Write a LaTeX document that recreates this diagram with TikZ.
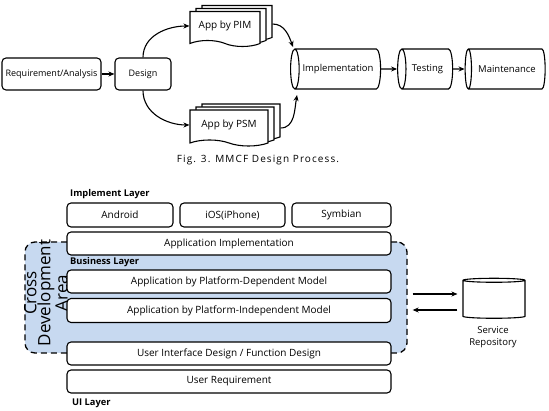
\documentclass[tikz,border=0pt]{standalone}
\usepackage{fontspec}
\setmainfont{Open Sans}
\usetikzlibrary{shapes.geometric,shapes.symbols,shadows,arrows.meta}
\definecolor{areablue}{RGB}{199,217,240}

\begin{document}
\begin{tikzpicture}[x=1pt,y=1pt,
    box/.style={draw,line width=1.1pt,rounded corners=4pt,fill=white,inner sep=0pt,font=\fontsize{9}{10}\selectfont},
    layer/.style={box,minimum width=324pt,minimum height=23pt,font=\fontsize{10}{11}\selectfont},
    doc/.style={draw,line width=1.1pt,fill=white,shape=tape,inner sep=0pt,tape bend top=none,tape bend bottom=out and in,tape bend height=6pt,font=\fontsize{10}{11}\selectfont,
      copy shadow={shadow xshift=12pt,shadow yshift=6pt,line width=1.1pt},
      copy shadow={shadow xshift=6pt,shadow yshift=3pt,line width=1.1pt}},
    pipe/.style={draw,line width=1.1pt,fill=white,shape=cylinder,shape border rotate=180,aspect=0.9,inner sep=0pt,minimum width=40pt,font=\fontsize{9.5}{11}\selectfont},
    flow/.style={-{Stealth[length=6pt,width=5pt]},line width=1.1pt},
    title/.style={anchor=west,inner sep=0pt,font=\bfseries\fontsize{9.3}{10}\selectfont}]
    \useasboundingbox (0,0) rectangle (549,-411);

    \node[box,minimum width=99pt,minimum height=32pt] at (51.5,-74) (req) {Requirement/Analysis};
    \node[box,minimum width=56pt,minimum height=32pt] at (143,-74) (design) {Design};
    \node[doc,minimum width=70pt,minimum height=35pt] at (225,-26) (pim) {App by PIM};
    \node[doc,minimum width=78pt,minimum height=36pt] at (229,-125) (psm) {App by PSM};
    \node[pipe,minimum height=90pt] at (338,-69) (impl) {Implementation};
    \node[pipe,minimum height=55pt] at (427.5,-69) (test) {Testing};
    \node[pipe,minimum height=80pt] at (507,-69) (maint) {Maintenance};

    \draw[flow] (req) -- (design);
    \draw[flow] (design.north) to[out=90,in=180] (pim.west);
    \draw[flow] (design.south) to[out=-90,in=180] (psm.west);
    \draw[flow] ([xshift=12pt,yshift=2pt]pim.east) to[out=0,in=110] ([xshift=3pt,yshift=22pt]impl.west);
    \draw[flow] ([xshift=12pt,yshift=-3pt]psm.east) to[out=0,in=-100] ([xshift=7pt,yshift=-26pt]impl.west);
    \draw[flow] (impl) -- (test);
    \draw[flow] (test) -- (maint);

    \node[font=\fontsize{10}{11}\selectfont] at (258,-160) (caption) {\addfontfeature{LetterSpace=11}Fig. 3. MMCF Design Process.};

    \node[title] at (70,-194) (implayer) {Implement Layer};
    \node[box,minimum width=106pt,minimum height=24pt,font=\fontsize{10}{11}\selectfont] at (120,-215) (android) {Android};
    \node[box,minimum width=105pt,minimum height=24pt,font=\fontsize{10}{11}\selectfont] at (232.5,-215) (ios) {iOS(iPhone)};
    \node[box,minimum width=99pt,minimum height=24pt,font=\fontsize{10}{11}\selectfont] at (341.5,-215) (symbian) {Symbian};

    \node[draw,line width=1.3pt,dash pattern=on 6pt off 4pt,fill=areablue,rounded corners=10pt,minimum width=382pt,minimum height=111pt] at (216,-297.5) (cross) {};
    \node[rotate=90,align=center,font=\fontsize{17}{12}\selectfont] at (46,-293) (crosslabel) {Cross\\Development\\Area};

    \node[layer] at (229,-243.5) (appimpl) {Application Implementation};
    \node[title] at (70,-262) (buslayer) {Business Layer};
    \node[layer] at (229,-281.5) (pdm) {Application by Platform-Dependent Model};
    \node[layer,minimum height=24pt] at (229,-310.5) (pindm) {Application by Platform-Independent Model};
    \node[layer] at (229,-353.5) (uid) {User Interface Design / Function Design};
    \node[layer] at (229,-381.5) (ureq) {User Requirement};
    \node[title] at (72,-403) (uilayer) {UI Layer};

    \node[draw,line width=1.1pt,fill=white,shape=cylinder,shape border rotate=90,aspect=0.6,minimum width=62pt,minimum height=40pt] at (494,-300) (repo) {};
    \node[align=center,font=\fontsize{9.5}{12.5}\selectfont] at (493,-337) (repolabel) {Service\\Repository};

    \draw[flow,shorten <=5pt,shorten >=5pt] ([yshift=3.5pt]cross.east) -- ([yshift=6pt]repo.west);
    \draw[flow,shorten <=5pt,shorten >=5pt] ([yshift=-10pt]repo.west) -- ([yshift=-12.5pt]cross.east);
\end{tikzpicture}
\end{document}
